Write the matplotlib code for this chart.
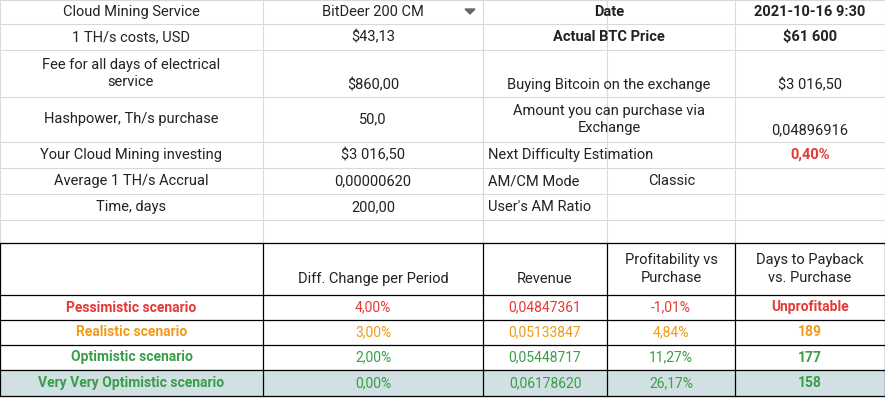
import matplotlib
matplotlib.use("Agg")
import matplotlib.pyplot as plt
from matplotlib.patches import Rectangle, Polygon

# left block: label, value
left_labels = ["Cloud Mining Service", "1 TH/s costs, USD", "Fee for all days of electrical\nservice",
               "Hashpower, Th/s purchase", "Your Cloud Mining investing", "Average 1 TH/s Accrual", "Time, days"]
left_values = ["BitDeer 200 CM", "$43,13", "$860,00", "50,0", "$3 016,50", "0,00000620", "200,00"]
# right block
right_labels = ["Date", "Actual BTC Price", "Buying Bitcoin on the exchange",
                "Amount you can purchase via\nExchange", "Next Difficulty Estimation", "AM/CM Mode", "User's AM Ratio"]
right_values = ["2021-10-16 9:30", "$61 600", "$3 016,50", "0,04896916", "0,40%", "", ""]
mode_value = "Classic"

headers = ["", "Diff. Change per Period", "Revenue", "Profitability vs\nPurchase", "Days to Payback\nvs. Purchase"]
scenarios = ["Pessimistic scenario", "Realistic scenario", "Optimistic scenario", "Very Very Optimistic scenario"]
diff_change = ["4,00%", "3,00%", "2,00%", "0,00%"]
revenue = ["0,04847361", "0,05133847", "0,05448717", "0,06178620"]
profitability = ["-1,01%", "4,84%", "11,27%", "26,17%"]
payback = ["Unprofitable", "189", "177", "158"]
scen_colors = ["#e53935", "#f09a1a", "#3a9d47", "#3a9d47"]

cols = [0, 263, 483, 607, 735, 885]
top_rows = [0, 24, 50, 97, 142, 168, 194, 220]
bot_rows = [243, 295, 320, 345, 370, 396]

fig = plt.figure(figsize=(8.85, 4), dpi=100)
ax = fig.add_axes([0, 0, 1, 1])
ax.set_xlim(0, 885)
ax.set_ylim(400, 0)
ax.axis("off")
plt.rcParams["font.family"] = "Roboto"
fs = 10.5
ls = 1.35
txt = "#222222"
grid = "#d9d9d9"

# light grid, top part
for y in top_rows + [243]:
    ax.plot([0, 885], [y, y], color=grid, lw=0.8)
for x in cols:
    ax.plot([x, x], [0, 243], color=grid, lw=0.8)

for i in range(7):
    y0, y1 = top_rows[i], top_rows[i + 1]
    ym = (y0 + y1) / 2
    yb = y1 - 12
    ax.text(131, ym, left_labels[i], ha="center", va="center", fontsize=fs, linespacing=ls, color=txt)
    ax.text(373, yb if i == 2 else ym, left_values[i], ha="center", va="center", fontsize=fs, color=txt)
    bold = i < 2
    if i >= 4:
        ax.text(488, ym, right_labels[i], ha="left", va="center", fontsize=fs, color=txt)
    else:
        ax.text(609, yb if i == 2 else ym, right_labels[i], ha="center", va="center",
                fontsize=fs, fontweight="bold" if bold else "normal", linespacing=ls, color=txt)
    vcolor = "#e53935" if i == 4 else txt
    ax.text(810, yb if i in (2, 3) else ym, right_values[i], ha="center", va="center", fontsize=fs,
            fontweight="bold" if (bold or i == 4) else "normal", color=vcolor)
ax.text(672, (top_rows[5] + top_rows[6]) / 2, mode_value, ha="center", va="center", fontsize=fs, color=txt)
ax.add_patch(Polygon([[465, 9], [475, 9], [470, 14]], closed=True, color="#666666"))

# bottom table
ax.add_patch(Rectangle((0, bot_rows[4]), 885, bot_rows[5] - bot_rows[4], color="#d0e0e3", zorder=0))
for y in bot_rows:
    ax.plot([0, 885], [y, y], color="black", lw=0.9)
for x in cols:
    ax.plot([x, x], [243, 396], color="black", lw=0.9)

for j, h in enumerate(headers):
    ax.text((cols[j] + cols[j + 1]) / 2, 269 if "\n" in h else 279, h, ha="center", va="center",
            fontsize=fs, linespacing=ls, color=txt)

for i in range(4):
    ym = (bot_rows[i + 1] + bot_rows[i + 2]) / 2
    row = [scenarios[i], diff_change[i], revenue[i], profitability[i], payback[i]]
    for j, v in enumerate(row):
        ax.text((cols[j] + cols[j + 1]) / 2, ym, v, ha="center", va="center", fontsize=fs - 0.5,
                color=scen_colors[i], fontweight="bold" if j in (0, 4) else "normal")

fig.savefig("out.png", dpi=100)
